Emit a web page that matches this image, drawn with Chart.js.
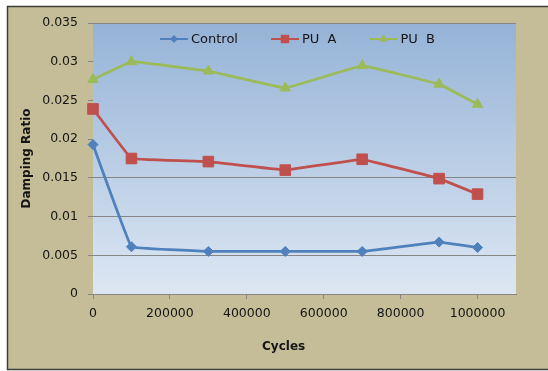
<!DOCTYPE html>
<html>
<head>
<meta charset="utf-8">
<title>Damping Ratio vs Cycles</title>
<script src="https://cdn.jsdelivr.net/npm/chart.js@4"></script>
<style>
  html, body { margin: 0; padding: 0; background: #ffffff; }
  #wrap { width: 548px; height: 371px; position: relative; }
</style>
</head>
<body>
<div id="wrap"><canvas id="chart" width="548" height="371"></canvas></div>
<script>
// Measured damping ratio at each cycle count
const cycles  = [0, 100000, 300000, 500000, 700000, 900000, 1000000];
const control = [0.0193, 0.0061, 0.0055, 0.0055, 0.0055, 0.0067, 0.0060];
const puA     = [0.0239, 0.0175, 0.0171, 0.0160, 0.0174, 0.0149, 0.0129];
const puB     = [0.0277, 0.0300, 0.0288, 0.0266, 0.0295, 0.0271, 0.0245];
const seriesNames = ['Control', 'PU  A', 'PU  B'];

// Axis ticks
const xTicks = [0, 200000, 400000, 600000, 800000, 1000000];
const yTicks = [0, 0.005, 0.01, 0.015, 0.02, 0.025, 0.03, 0.035];
const yTickLabels = ['0', '0.005', '0.01', '0.015', '0.02', '0.025', '0.03', '0.035'];
const yGridShown = [0, 0.005, 0.01, 0.015, 0.035];

const FONT = '"DejaVu Sans", sans-serif';
const TEXT = '#141414';
const GRID = '#868686';

Chart.defaults.font.family = FONT;

function pairs(values) {
  return cycles.map((c, i) => ({ x: c, y: values[i] }));
}

// Beige frame behind the whole chart and gradient fill behind the plot area
const framePlugin = {
  id: 'frame',
  beforeDraw(chart) {
    const { ctx, chartArea: a } = chart;
    ctx.save();
    ctx.fillStyle = '#ffffff';
    ctx.fillRect(0, 0, chart.width, chart.height);
    ctx.fillStyle = '#C4BD97';
    ctx.fillRect(7, 6, chart.width - 7, 364);
    ctx.strokeStyle = '#3c3c3c';
    ctx.lineWidth = 1.5;
    ctx.beginPath();
    ctx.moveTo(chart.width + 2, 6.5);
    ctx.lineTo(7.5, 6.5);
    ctx.lineTo(7.5, 369.5);
    ctx.lineTo(chart.width + 2, 369.5);
    ctx.stroke();
    const g = ctx.createLinearGradient(0, a.top, 0, a.bottom);
    g.addColorStop(0, '#95B3D7');
    g.addColorStop(1, '#DDE7F3');
    ctx.fillStyle = g;
    ctx.fillRect(a.left, a.top, a.right - a.left, a.bottom - a.top);
    ctx.restore();
  }
};

// Legend row inside the plot area: line segment with marker, then the label
const lineLegend = {
  id: 'lineLegend',
  afterDatasetsDraw(chart) {
    const { ctx, chartArea: a } = chart;
    ctx.save();
    ctx.font = '13px ' + FONT;
    const seg = 28, gapText = 3, gapItem = 33;
    const items = chart.data.datasets.map(ds => ({ ds, w: ctx.measureText(ds.label).width }));
    const total = items.reduce((s, it) => s + seg + gapText + it.w, 0) + gapItem * (items.length - 1);
    let x = (a.left + a.right) / 2 - 7 - total / 2;
    const y = a.top + 16;
    items.forEach(it => {
      const ds = it.ds;
      ctx.strokeStyle = ds.borderColor;
      ctx.fillStyle = ds.backgroundColor;
      ctx.lineWidth = 2;
      ctx.beginPath();
      ctx.moveTo(x, y);
      ctx.lineTo(x + seg, y);
      ctx.stroke();
      Chart.helpers.drawPoint(ctx, {
        pointStyle: ds.pointStyle,
        radius: ds.legendMarkerRadius,
        borderWidth: 0,
        rotation: 0
      }, x + seg / 2, y);
      ctx.fillStyle = TEXT;
      ctx.textAlign = 'left';
      ctx.textBaseline = 'middle';
      ctx.fillText(ds.label, x + seg + gapText, y + 0.5);
      x += seg + gapText + it.w + gapItem;
    });
    ctx.restore();
  }
};

const common = {
  borderWidth: 2.75,
  tension: 0.04,
  pointBorderWidth: 1,
  clip: false,
  fill: false
};

new Chart(document.getElementById('chart'), {
  type: 'line',
  data: {
    datasets: [
      Object.assign({}, common, {
        label: seriesNames[0],
        data: pairs(control),
        borderColor: '#4F81BD',
        backgroundColor: '#4F81BD',
        pointStyle: 'rectRot',
        pointRadius: 5,
        legendMarkerRadius: 4
      }),
      Object.assign({}, common, {
        label: seriesNames[1],
        data: pairs(puA),
        borderColor: '#C0504D',
        backgroundColor: '#C0504D',
        pointStyle: 'rect',
        pointRadius: 7.5,
        legendMarkerRadius: 6
      }),
      Object.assign({}, common, {
        label: seriesNames[2],
        data: pairs(puB),
        borderColor: '#9BBB59',
        backgroundColor: '#9BBB59',
        pointStyle: 'triangle',
        pointRadius: 6,
        legendMarkerRadius: 5
      })
    ]
  },
  options: {
    responsive: false,
    animation: false,
    events: [],
    layout: { padding: { left: 0, right: 32, top: 23, bottom: 0 } },
    plugins: {
      legend: { display: false },
      tooltip: { enabled: false }
    },
    scales: {
      x: {
        type: 'linear',
        min: 0,
        max: 1100000,
        afterBuildTicks: s => { s.ticks = xTicks.map(v => ({ value: v })); },
        afterFit: s => { s.height = 77; },
        ticks: {
          callback: v => String(v),
          font: { size: 12.5 },
          color: TEXT,
          padding: 7,
          maxRotation: 0,
          autoSkip: false
        },
        grid: { drawOnChartArea: false, drawTicks: true, tickLength: 5, color: GRID },
        border: { color: GRID, width: 1 },
        title: {
          display: true,
          // trailing spaces set the title a little left of the axis centre
          text: 'Cycles' + ' '.repeat(10),
          color: TEXT,
          font: { size: 12, weight: 'bold' },
          padding: { top: 0, bottom: 17 }
        }
      },
      y: {
        type: 'linear',
        min: 0,
        max: 0.035,
        afterBuildTicks: s => { s.ticks = yTicks.map(v => ({ value: v })); },
        afterFit: s => { s.width = 93; },
        ticks: {
          callback: (v, i) => yTickLabels[i],
          font: { size: 12.5 },
          color: TEXT,
          padding: 10,
          autoSkip: false
        },
        grid: {
          color: c => yGridShown.some(g => Math.abs(g - c.tick.value) < 1e-9) ? GRID : 'rgba(0,0,0,0)',
          tickColor: GRID,
          tickLength: 5,
          drawTicks: true
        },
        border: { display: false },
        title: {
          display: true,
          text: 'Damping Ratio',
          color: TEXT,
          font: { size: 12, weight: 'bold' },
          padding: { top: 20, bottom: 0 }
        }
      }
    }
  },
  plugins: [framePlugin, lineLegend]
});
</script>
</body>
</html>
